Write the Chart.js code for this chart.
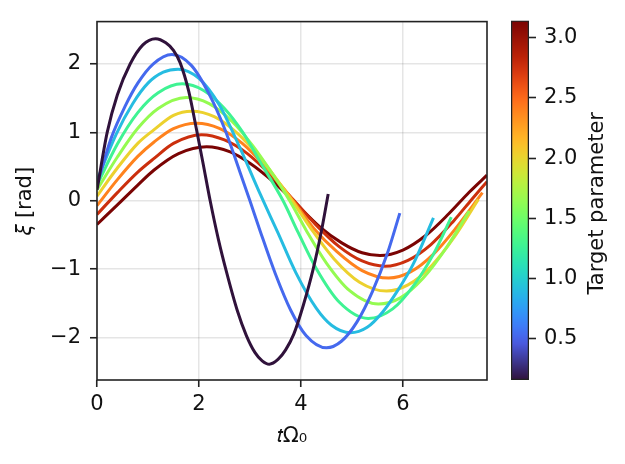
<!DOCTYPE html>
<html>
<head>
<meta charset="utf-8">
<script src="https://cdn.jsdelivr.net/npm/chart.js@4.4.1/dist/chart.umd.min.js"></script>
<style>
  html, body { margin: 0; padding: 0; background: #fff; }
  #wrap { position: relative; width: 625px; height: 464px; }
  #main { position: absolute; left: 0; top: 0; }
  #cbar { position: absolute; left: 505px; top: 0; }
</style>
</head>
<body>
<div id="wrap">
  <canvas id="main" width="625" height="464"></canvas>
  <canvas id="cbar" width="120" height="464"></canvas>
</div>
<script>
// target parameter of each curve (colour scale values)
const params = [0.157, 0.530, 0.903, 1.276, 1.649, 2.022, 2.395, 2.768, 3.142];

// time (tΩ0) and angle ξ [rad], one pair per curve
const t1  = [0, 0.2, 0.4, 0.65, 0.9, 1.15, 1.35, 1.5, 1.63, 1.8, 1.95, 2.08, 2.22, 2.38, 2.54, 2.75, 2.93, 3.1, 3.24, 3.38, 3.55, 3.7, 3.86, 4.05, 4.24, 4.4, 4.535];
const xi1 = [0.16, 1.0, 1.55, 2.0, 2.28, 2.37, 2.31, 2.2, 2.02, 1.6, 1.05, 0.55, 0.0, -0.56, -1.04, -1.6, -1.97, -2.22, -2.34, -2.39, -2.32, -2.18, -1.95, -1.52, -1.0, -0.45, 0.10];

const t2  = [0, 0.28, 0.55, 0.8, 1.1, 1.47, 1.85, 2.2, 2.5, 2.8, 3.0, 3.2, 3.5, 3.8, 4.1, 4.5, 4.8, 5.1, 5.4, 5.7, 5.94];
const xi2 = [0.23, 0.92, 1.38, 1.72, 2.0, 2.14, 1.98, 1.56, 1.06, 0.43, 0.0, -0.44, -1.07, -1.6, -1.97, -2.15, -2.05, -1.77, -1.33, -0.76, -0.18];

const t3  = [0, 0.38, 0.7, 1.0, 1.3, 1.59, 2.0, 2.4, 2.8, 3.2, 3.55, 3.9, 4.3, 4.6, 4.97, 5.3, 5.6, 5.9, 6.2, 6.6];
const xi3 = [0.30, 0.98, 1.42, 1.72, 1.88, 1.925, 1.79, 1.40, 0.78, 0.10, -0.47, -1.05, -1.57, -1.82, -1.93, -1.85, -1.63, -1.31, -0.93, -0.25];

const t4  = [0, 0.4, 0.8, 1.2, 1.67, 2.1, 2.5, 2.86, 3.2, 3.65, 3.95, 4.3, 4.75, 5.32, 5.8, 6.2, 6.6, 6.95];
const xi4 = [0.23, 0.83, 1.29, 1.58, 1.71, 1.61, 1.35, 1.0, 0.57, 0.0, -0.47, -0.99, -1.48, -1.72, -1.58, -1.25, -0.78, -0.24];

const t5  = [0, 0.4, 0.8, 1.2, 1.75, 2.2, 2.65, 3.05, 3.4, 3.78, 4.11, 4.5, 4.95, 5.52, 5.95, 6.4, 6.85, 7.3];
const xi5 = [0.16, 0.64, 1.06, 1.35, 1.51, 1.42, 1.16, 0.81, 0.44, 0.0, -0.44, -0.91, -1.31, -1.51, -1.42, -1.13, -0.69, -0.15];

const t6  = [0, 0.4, 0.8, 1.12, 1.5, 1.86, 2.3, 2.75, 3.2, 3.5, 3.83, 4.2, 4.65, 5.15, 5.68, 6.1, 6.55, 7.0, 7.48];
const xi6 = [0.07, 0.48, 0.84, 1.04, 1.25, 1.31, 1.23, 0.99, 0.63, 0.34, 0.0, -0.41, -0.85, -1.19, -1.32, -1.23, -0.96, -0.54, 0.02];

const t7  = [0, 0.4, 0.8, 1.12, 1.5, 1.95, 2.4, 2.85, 3.3, 3.85, 4.25, 4.7, 5.2, 5.72, 6.15, 6.6, 7.05, 7.56];
const xi7 = [-0.07, 0.31, 0.65, 0.86, 1.055, 1.135, 1.06, 0.84, 0.50, 0.0, -0.40, -0.74, -1.02, -1.13, -1.04, -0.78, -0.39, 0.12];

const t8  = [0, 0.4, 0.8, 1.12, 1.5, 2.05, 2.5, 2.95, 3.4, 3.87, 4.3, 4.75, 5.2, 5.65, 6.1, 6.55, 7.0, 7.35, 7.65];
const xi8 = [-0.20, 0.12, 0.42, 0.62, 0.84, 0.967, 0.89, 0.69, 0.38, 0.0, -0.355, -0.67, -0.88, -0.957, -0.87, -0.64, -0.29, 0.02, 0.28];

const t9  = [0, 0.4, 0.8, 1.12, 1.6, 2.15, 2.6, 3.0, 3.45, 3.85, 4.37, 4.8, 5.2, 5.55, 6.0, 6.46, 6.9, 7.3, 7.65];
const xi9 = [-0.346, -0.06, 0.23, 0.45, 0.69, 0.79, 0.72, 0.55, 0.285, 0.0, -0.38, -0.615, -0.76, -0.80, -0.72, -0.50, -0.19, 0.125, 0.375];

const tValues  = [t1, t2, t3, t4, t5, t6, t7, t8, t9];
const xiValues = [xi1, xi2, xi3, xi4, xi5, xi6, xi7, xi8, xi9];

// axes
const xRange = [0, 7.65];
const yRange = [-2.62, 2.62];
const cbRange = [0.157, 3.142];
const xTicks = [0, 2, 4, 6];
const yTicks = [-2, -1, 0, 1, 2];
const cbTicks = [0.5, 1.0, 1.5, 2.0, 2.5, 3.0];

const FONT = { family: 'DejaVu Sans', size: 21 };
const INK = '#111';

// turbo colormap (polynomial fit, ends pinned to matplotlib's)
function turboPoly(t) {
  const r = 34.61 + t * (1172.33 - t * (10793.56 - t * (33300.12 - t * (38394.49 - t * 14825.05))));
  const g = 23.31 + t * (557.33 + t * (1225.33 - t * (3574.96 - t * (1073.77 + t * 707.56))));
  const b = 27.2 + t * (3211.1 - t * (15327.97 - t * (27814 - t * (22569.18 - t * 6838.66))));
  return [r, g, b];
}
function mix(a, b, f) { return a.map((v, i) => v + (b[i] - v) * f); }
function turbo(t) {
  t = Math.max(0, Math.min(1, t));
  let c;
  if (t < 0.1) c = mix([48, 18, 59], turboPoly(0.1), t / 0.1);
  else if (t > 0.9) c = mix(turboPoly(0.9), [122, 4, 3], (t - 0.9) / 0.1);
  else c = turboPoly(t);
  c = c.map(v => Math.round(Math.max(0, Math.min(255, v))));
  return 'rgb(' + c.join(',') + ')';
}
const norm = v => (v - cbRange[0]) / (cbRange[1] - cbRange[0]);
const minus = v => String(v).replace('-', '\u2212');

const datasets = params.map((p, i) => ({
  label: 'p=' + p,
  data: tValues[i].map((t, j) => ({ x: t, y: xiValues[i][j] })),
  borderColor: turbo(norm(p)),
  borderWidth: 3,
  pointRadius: 0,
  fill: false,
  cubicInterpolationMode: 'monotone'
}));

const frame = {
  id: 'frame',
  afterDatasetsDraw(chart) {
    const a = chart.chartArea, c = chart.ctx;
    c.save();
    c.strokeStyle = '#222';
    c.lineWidth = 1.6;
    c.strokeRect(a.left, a.top, a.right - a.left, a.bottom - a.top);
    c.restore();
  }
};

new Chart(document.getElementById('main').getContext('2d'), {
  type: 'line',
  data: { datasets },
  options: {
    responsive: false,
    animation: false,
    layout: { padding: { left: 0, right: 138, top: 16, bottom: 0 } },
    plugins: { legend: { display: false }, tooltip: { enabled: false } },
    scales: {
      x: {
        type: 'linear',
        min: xRange[0], max: xRange[1],
        afterBuildTicks: s => { s.ticks = xTicks.map(v => ({ value: v })); },
        afterFit: s => { s.height = 84; },
        grid: { color: 'rgba(0,0,0,0.1)', lineWidth: 1.5, tickColor: '#222', tickLength: 7, tickWidth: 1.6 },
        border: { display: false },
        ticks: { font: FONT, color: INK, padding: 5, maxRotation: 0, callback: v => minus(v) },
        title: { display: true, text: '\u{1D461}\u03A9\u2080', font: FONT, color: INK, padding: { top: 0, bottom: 15 } }
      },
      y: {
        min: yRange[0], max: yRange[1],
        afterBuildTicks: s => { s.ticks = yTicks.map(v => ({ value: v })); },
        afterFit: s => { s.width = 97; },
        grid: { color: 'rgba(0,0,0,0.1)', lineWidth: 1.5, tickColor: '#222', tickLength: 7, tickWidth: 1.6 },
        border: { display: false },
        ticks: { font: FONT, color: INK, padding: 9, callback: v => minus(v) },
        title: { display: true, text: '\u{1D709} [rad]', font: FONT, color: INK, padding: { top: 13, bottom: 0 } }
      }
    }
  },
  plugins: [frame]
});

// colour bar
const cbTitle = {
  id: 'cbTitle',
  afterDraw(chart) {
    const c = chart.ctx;
    c.save();
    c.fillStyle = INK;
    c.font = FONT.size + 'px "' + FONT.family + '"';
    c.textAlign = 'center';
    c.textBaseline = 'middle';
    c.translate(93, (chart.chartArea.top + chart.chartArea.bottom) / 2 + 3);
    c.rotate(-Math.PI / 2);
    c.fillText('Target parameter', 0, 0);
    c.restore();
  }
};

new Chart(document.getElementById('cbar').getContext('2d'), {
  type: 'bar',
  data: {
    labels: [''],
    datasets: [{
      data: [cbRange],
      backgroundColor: ctx => {
        const a = ctx.chart.chartArea;
        if (!a) return null;
        const g = ctx.chart.ctx.createLinearGradient(0, a.bottom, 0, a.top);
        for (let i = 0; i <= 40; i++) g.addColorStop(i / 40, turbo(i / 40));
        return g;
      },
      borderColor: '#222',
      borderWidth: 1.6,
      borderSkipped: false,
      barPercentage: 1,
      categoryPercentage: 1
    }]
  },
  options: {
    responsive: false,
    animation: false,
    layout: { padding: { left: 6, right: 0, top: 16, bottom: 84 } },
    plugins: { legend: { display: false }, tooltip: { enabled: false } },
    scales: {
      x: { display: false },
      y: {
        position: 'right',
        min: cbRange[0], max: cbRange[1],
        afterBuildTicks: s => { s.ticks = cbTicks.map(v => ({ value: v })); },
        afterFit: s => { s.width = 96; },
        grid: { drawOnChartArea: false, drawTicks: true, tickColor: '#222', tickLength: 7, tickWidth: 1.6 },
        border: { display: false },
        ticks: { font: FONT, color: INK, padding: 8, callback: v => v.toFixed(1) }
      }
    }
  },
  plugins: [cbTitle]
});
</script>
</body>
</html>
